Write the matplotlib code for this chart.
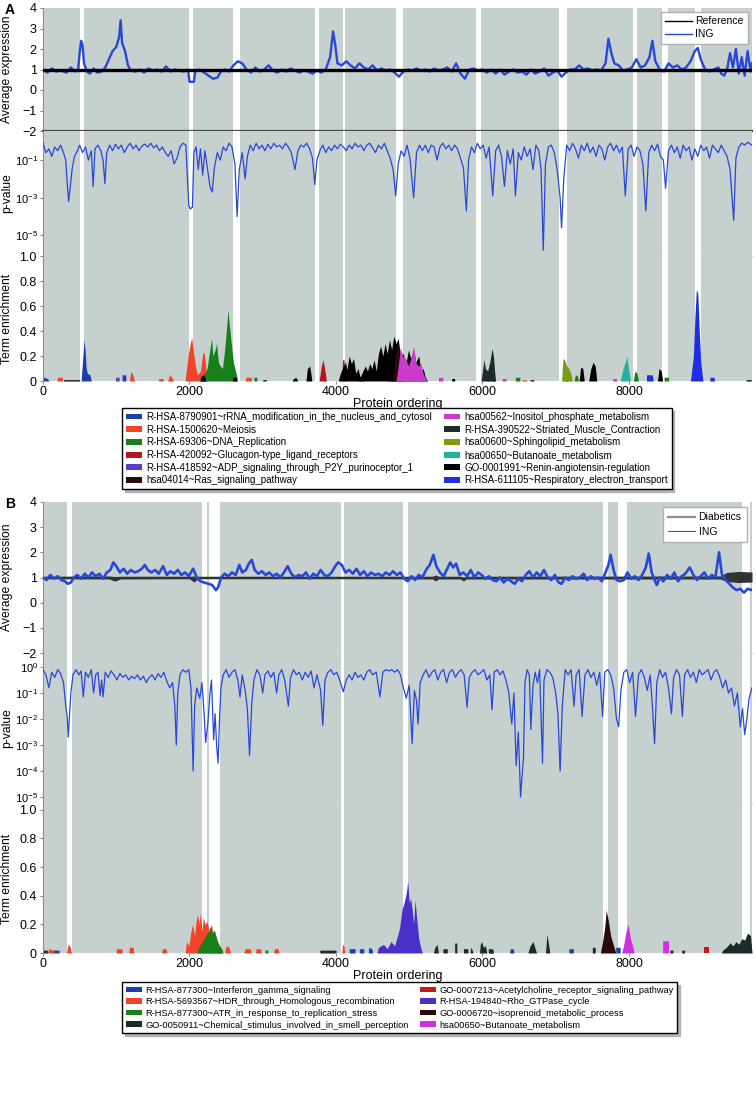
import numpy as np
import matplotlib
matplotlib.use('Agg')
import matplotlib.pyplot as plt
from matplotlib.patches import Patch
from matplotlib.lines import Line2D

plt.rcParams['font.family'] = ['Liberation Sans', 'DejaVu Sans']

# ---------------- panel A data ----------------
a_gaps = [(505, 559), (1992, 2046), (2592, 2688), (3711, 3765), (4093, 4120),
          (4816, 4911), (5907, 5975), (7040, 7149), (8049, 8104), (8458, 8527),
          (8895, 8977)]

a_ref_level = 1.0

a_ing_expr = [
    (0, 1.0), (60, 0.85), (120, 1.05), (180, 0.9), (250, 0.95), (320, 0.85), (380, 1.1),
    (440, 0.9), (480, 1.0), (500, 1.8), (520, 2.4), (540, 2.2), (560, 1.3), (600, 0.9),
    (640, 0.8), (690, 1.05), (740, 0.85), (800, 0.9), (850, 1.1), (900, 1.5), (950, 1.9),
    (1000, 2.1), (1040, 2.6), (1060, 3.4), (1080, 2.3), (1120, 1.9), (1160, 1.2),
    (1200, 0.95), (1260, 0.9), (1320, 1.0), (1380, 0.85), (1440, 1.05), (1500, 0.95),
    (1560, 1.0), (1620, 0.9), (1680, 1.15), (1740, 0.9), (1800, 1.0), (1860, 0.95),
    (1920, 0.9), (1980, 1.0), (2000, 0.4), (2060, 0.4), (2080, 0.95), (2140, 1.0),
    (2200, 0.85), (2260, 0.7), (2320, 0.55), (2380, 0.6), (2430, 0.9), (2480, 1.0),
    (2540, 0.9), (2600, 1.2), (2660, 1.4), (2720, 1.3), (2780, 1.0), (2840, 0.85),
    (2900, 1.1), (2960, 0.9), (3020, 1.0), (3080, 1.2), (3140, 0.95), (3200, 0.85),
    (3260, 1.0), (3320, 0.9), (3380, 1.05), (3440, 0.95), (3500, 0.85), (3560, 0.95),
    (3620, 0.9), (3680, 0.8), (3740, 0.95), (3800, 0.85), (3860, 1.0), (3920, 1.6),
    (3960, 2.85), (3990, 2.2), (4020, 1.3), (4080, 1.2), (4140, 1.4), (4200, 1.2),
    (4260, 1.05), (4320, 1.3), (4380, 1.1), (4440, 1.0), (4500, 1.2), (4560, 0.95),
    (4620, 1.05), (4680, 0.95), (4740, 1.0), (4800, 0.85), (4860, 0.65), (4920, 0.9),
    (4980, 1.0), (5040, 0.95), (5100, 1.05), (5160, 0.95), (5220, 1.0), (5280, 0.9),
    (5340, 1.05), (5400, 0.95), (5460, 1.0), (5520, 1.1), (5580, 0.9), (5640, 1.3),
    (5700, 0.8), (5760, 0.55), (5820, 1.0), (5880, 1.05), (5940, 0.95), (6000, 1.0),
    (6060, 0.85), (6120, 1.0), (6180, 0.8), (6240, 1.0), (6300, 0.75), (6360, 0.9),
    (6420, 1.0), (6480, 0.85), (6540, 0.9), (6600, 0.75), (6660, 1.0), (6720, 0.8),
    (6780, 0.9), (6840, 1.05), (6900, 0.7), (6960, 0.85), (7020, 0.95), (7080, 0.65),
    (7140, 0.85), (7200, 1.0), (7260, 1.0), (7320, 1.2), (7380, 1.0), (7440, 1.05),
    (7500, 0.95), (7560, 1.0), (7620, 0.95), (7680, 1.3), (7720, 2.5), (7760, 1.8),
    (7800, 1.3), (7860, 1.2), (7920, 0.95), (7980, 1.0), (8040, 1.1), (8100, 1.5),
    (8160, 1.1), (8220, 1.2), (8280, 1.6), (8320, 2.4), (8360, 1.4), (8420, 1.0),
    (8480, 0.9), (8540, 1.3), (8600, 1.1), (8660, 1.2), (8720, 1.0), (8780, 1.1),
    (8840, 1.4), (8900, 1.9), (8940, 2.05), (8980, 1.5), (9040, 1.0), (9100, 0.9),
    (9160, 1.0), (9220, 1.1), (9260, 0.8), (9300, 0.7), (9340, 1.0), (9380, 1.8),
    (9420, 1.1), (9460, 2.0), (9500, 0.8), (9540, 1.6), (9580, 0.7), (9620, 1.9),
    (9660, 0.9), (9680, 1.3)]

# log10 of the p-value
a_pval_log = [
    (0, -0.1), (40, -0.6), (80, -0.4), (120, -0.8), (160, -0.3), (200, -0.5), (240, -0.2),
    (280, -0.6), (310, -1.0), (330, -2.2), (350, -3.2), (370, -2.5), (400, -1.4),
    (430, -0.8), (470, -0.5), (500, -0.2), (540, -0.6), (580, -0.3), (620, -1.0),
    (660, -0.5), (685, -2.4), (710, -0.4), (750, -0.2), (790, -0.5), (820, -1.0),
    (845, -2.25), (870, -0.6), (910, -0.2), (950, -0.5), (990, -0.15), (1030, -0.4),
    (1070, -0.2), (1110, -0.6), (1150, -0.3), (1190, -0.1), (1230, -0.4), (1270, -0.2),
    (1310, -0.5), (1350, -0.25), (1390, -0.15), (1430, -0.3), (1470, -0.1), (1510, -0.35),
    (1550, -0.2), (1590, -0.5), (1630, -0.3), (1670, -0.6), (1710, -0.8), (1750, -0.5),
    (1790, -1.2), (1830, -0.9), (1870, -0.3), (1910, -0.1), (1950, -0.2), (1990, -3.4),
    (2010, -3.6), (2040, -3.5), (2060, -0.6), (2090, -0.3), (2120, -1.5), (2150, -0.4),
    (2180, -1.8), (2210, -0.5), (2250, -1.6), (2280, -2.4), (2310, -2.7), (2340, -1.4),
    (2380, -0.6), (2420, -1.0), (2460, -0.3), (2500, -0.5), (2540, -0.1), (2580, -0.3),
    (2620, -1.2), (2650, -4.0), (2680, -1.5), (2720, -0.6), (2760, -2.0), (2790, -0.8),
    (2830, -0.2), (2870, -0.5), (2910, -0.1), (2950, -0.4), (2990, -0.2), (3030, -0.5),
    (3070, -0.15), (3110, -0.4), (3150, -0.1), (3190, -0.3), (3230, -0.2), (3270, -0.4),
    (3310, -0.1), (3350, -0.3), (3390, -0.6), (3440, -1.5), (3480, -0.5), (3520, -0.2),
    (3560, -0.3), (3600, -0.1), (3640, -0.4), (3680, -0.9), (3710, -2.3), (3740, -1.0),
    (3780, -0.5), (3820, -0.2), (3860, -0.6), (3900, -0.3), (3940, -0.5), (3980, -0.2),
    (4020, -0.4), (4060, -0.15), (4100, -0.3), (4140, -0.5), (4180, -0.2), (4220, -0.4),
    (4260, -0.1), (4300, -0.3), (4340, -0.2), (4380, -0.5), (4420, -0.2), (4460, -0.1),
    (4500, -0.35), (4540, -0.6), (4580, -0.2), (4620, -0.4), (4660, -0.1), (4700, -0.5),
    (4740, -0.9), (4780, -1.5), (4815, -2.9), (4850, -1.2), (4890, -0.5), (4930, -0.8),
    (4970, -0.2), (5010, -0.9), (5060, -3.0), (5100, -0.6), (5140, -0.2), (5180, -0.5),
    (5220, -0.2), (5260, -0.6), (5300, -0.2), (5340, -0.3), (5380, -1.0), (5420, -0.3),
    (5460, -0.1), (5500, -0.4), (5540, -0.2), (5580, -0.5), (5620, -0.2), (5660, -0.4),
    (5700, -0.9), (5740, -1.4), (5780, -3.7), (5810, -1.0), (5850, -0.3), (5890, -0.6),
    (5930, -0.1), (5970, -0.4), (6010, -0.2), (6050, -0.9), (6090, -0.3), (6140, -2.9),
    (6180, -0.5), (6220, -0.2), (6260, -0.8), (6300, -2.4), (6340, -0.5), (6380, -1.2),
    (6420, -0.4), (6450, -2.9), (6490, -0.6), (6530, -1.0), (6570, -0.3), (6610, -0.8),
    (6650, -0.4), (6690, -1.5), (6730, -0.2), (6770, -0.5), (6800, -1.5), (6830, -5.8),
    (6860, -1.2), (6900, -0.3), (6940, -0.2), (6980, -0.6), (7020, -1.5), (7060, -3.0),
    (7080, -4.6), (7110, -2.0), (7150, -0.2), (7190, -0.5), (7230, -0.1), (7270, -0.4),
    (7310, -0.9), (7350, -0.2), (7390, -0.5), (7430, -0.1), (7470, -0.6), (7510, -0.3),
    (7550, -0.8), (7590, -0.2), (7630, -0.4), (7670, -1.0), (7710, -0.3), (7750, -0.1),
    (7790, -0.5), (7830, -0.2), (7870, -0.6), (7910, -0.3), (7950, -2.9), (7990, -0.4),
    (8030, -0.2), (8070, -0.8), (8110, -0.3), (8150, -0.5), (8190, -1.2), (8230, -3.7),
    (8270, -0.6), (8310, -0.2), (8350, -0.5), (8390, -0.15), (8430, -0.8), (8470, -1.0),
    (8500, -2.5), (8540, -0.5), (8580, -0.2), (8620, -0.6), (8660, -0.3), (8700, -0.9),
    (8740, -0.2), (8780, -0.5), (8820, -0.3), (8860, -1.0), (8900, -0.4), (8940, -0.8),
    (8980, -0.2), (9020, -0.5), (9060, -0.3), (9100, -0.9), (9140, -0.2), (9180, -0.4),
    (9220, -0.6), (9260, -0.2), (9300, -0.5), (9340, -0.8), (9380, -1.5), (9430, -4.2),
    (9460, -0.9), (9500, -0.3), (9540, -0.1), (9580, -0.2), (9620, -0.05), (9680, -0.2)]

# term enrichment profiles, panel A
a_rrna = [(0, 0), (10, 0.03), (60, 0.02), (80, 0), (520, 0), (545, 0.2), (560, 0.33),
          (575, 0.25), (590, 0.1), (605, 0.06), (640, 0.05), (660, 0),
          (1080, 0), (1080, 0.05), (1130, 0.05), (1130, 0), (6050, 0), (6050, 0.01),
          (6100, 0.01), (6100, 0)]
a_meiosis = [(190, 0), (200, 0.03), (260, 0.03), (270, 0), (1180, 0), (1200, 0.08),
             (1230, 0.04), (1250, 0), (1580, 0), (1580, 0.02), (1640, 0.02), (1640, 0),
             (1700, 0), (1730, 0.05), (1770, 0.02), (1780, 0),
             (1940, 0), (1980, 0.2), (2010, 0.3), (2030, 0.35), (2050, 0.25), (2080, 0.12),
             (2110, 0.05), (2150, 0.08), (2180, 0.22), (2200, 0.23), (2220, 0.12), (2240, 0),
             (2760, 0), (2770, 0.03), (2840, 0.03), (2850, 0), (6540, 0), (6540, 0.01),
             (6600, 0.01), (6600, 0)]
a_dna = [(2150, 0), (2200, 0.05), (2240, 0.1), (2270, 0.22), (2300, 0.34), (2320, 0.2),
         (2350, 0.25), (2370, 0.3), (2395, 0.15), (2420, 0.12), (2450, 0.1), (2480, 0.25),
         (2510, 0.45), (2525, 0.57), (2545, 0.45), (2570, 0.3), (2600, 0.15), (2640, 0.05),
         (2660, 0), (2880, 0), (2880, 0.03), (2920, 0.03), (2920, 0),
         (6450, 0), (6450, 0.03), (6510, 0.03), (6510, 0), (7250, 0), (7270, 0.05),
         (7300, 0.04), (7310, 0), (8060, 0), (8080, 0.08), (8110, 0.06), (8130, 0),
         (8480, 0), (8480, 0.03), (8540, 0.03), (8540, 0)]
a_glucagon = [(3770, 0), (3800, 0.12), (3825, 0.17), (3850, 0.08), (3870, 0),
              (4080, 0), (4090, 0.17), (4110, 0.17), (4120, 0)]
a_adp = [(990, 0), (990, 0.03), (1040, 0.03), (1040, 0), (4300, 0), (4320, 0.04),
         (4360, 0.02), (4380, 0), (4700, 0), (4720, 0.05), (4790, 0.06), (4800, 0)]
a_renin = [(280, 0), (280, 0.01), (500, 0.01), (500, 0), (2140, 0), (2160, 0.04),
           (2200, 0.05), (2220, 0), (2590, 0), (2590, 0.03), (2640, 0.03), (2640, 0),
           (3000, 0), (3000, 0.01), (3050, 0.01), (3050, 0), (3400, 0), (3420, 0.02),
           (3450, 0.03), (3480, 0), (3590, 0), (3610, 0.1), (3640, 0.12), (3660, 0.05),
           (3670, 0), (4030, 0), (4060, 0.06), (4100, 0.12), (4130, 0.15), (4150, 0.09),
           (4180, 0.2), (4210, 0.14), (4240, 0.18), (4270, 0.06), (4300, 0.1), (4330, 0.03),
           (4360, 0.07), (4400, 0.12), (4430, 0.08), (4460, 0.14), (4490, 0.1), (4520, 0.17),
           (4550, 0.08), (4580, 0.22), (4610, 0.28), (4640, 0.2), (4670, 0.3), (4700, 0.22),
           (4730, 0.33), (4760, 0.25), (4790, 0.36), (4820, 0.3), (4850, 0.34), (4880, 0.2),
           (4920, 0.22), (4950, 0.12), (4990, 0.25), (5020, 0.18), (5060, 0.25), (5090, 0.15),
           (5130, 0.2), (5160, 0.08), (5190, 0.1), (5220, 0.03), (5250, 0),
           (5580, 0), (5580, 0.02), (5620, 0.02), (5620, 0), (6130, 0), (6130, 0.03),
           (6170, 0.03), (6170, 0), (6650, 0), (6650, 0.01), (6700, 0.01), (6700, 0),
           (7320, 0), (7340, 0.11), (7370, 0.1), (7390, 0), (7450, 0), (7480, 0.1),
           (7510, 0.15), (7540, 0.12), (7560, 0), (8390, 0), (8410, 0.1), (8440, 0.08),
           (8460, 0), (9600, 0), (9600, 0.01), (9670, 0.01), (9670, 0)]
a_ras = [(4780, 0), (4810, 0.2), (4840, 0.33), (4870, 0.15), (4900, 0),
         (7130, 0), (7140, 0.1), (7160, 0.08), (7170, 0)]
a_inositol = [(4820, 0), (4850, 0.12), (4880, 0.27), (4910, 0.2), (4950, 0.18),
              (4990, 0.12), (5030, 0.2), (5060, 0.28), (5090, 0.15), (5120, 0.12),
              (5160, 0.14), (5190, 0.06), (5220, 0.02), (5250, 0),
              (5400, 0), (5400, 0.03), (5460, 0.03), (5460, 0), (6270, 0), (6270, 0.02),
              (6320, 0.02), (6320, 0), (7780, 0), (7780, 0.02), (7830, 0.02), (7830, 0)]
a_striated = [(5980, 0), (6000, 0.08), (6020, 0.17), (6040, 0.1), (6070, 0.08),
              (6100, 0.15), (6130, 0.26), (6150, 0.2), (6170, 0.05), (6180, 0)]
a_sphingo = [(7080, 0), (7100, 0.18), (7120, 0.17), (7150, 0.12), (7180, 0.1),
             (7210, 0.05), (7230, 0)]
a_butanoate = [(7880, 0), (7920, 0.1), (7950, 0.15), (7970, 0.2), (7990, 0.12), (8020, 0)]
a_resp = [(8240, 0), (8240, 0.05), (8320, 0.05), (8330, 0), (8840, 0), (8880, 0.2),
          (8900, 0.5), (8920, 0.73), (8940, 0.7), (8960, 0.4), (8980, 0.15), (9010, 0),
          (9100, 0), (9110, 0.03), (9160, 0.03), (9170, 0)]

a_terms = ['R-HSA-8790901~rRNA_modification_in_the_nucleus_and_cytosol',
           'R-HSA-1500620~Meiosis',
           'R-HSA-69306~DNA_Replication',
           'R-HSA-420092~Glucagon-type_ligand_receptors',
           'R-HSA-418592~ADP_signaling_through_P2Y_purinoceptor_1',
           'hsa04014~Ras_signaling_pathway',
           'hsa00562~Inositol_phosphate_metabolism',
           'R-HSA-390522~Striated_Muscle_Contraction',
           'hsa00600~Sphingolipid_metabolism',
           'hsa00650~Butanoate_metabolism',
           'GO-0001991~Renin-angiotensin-regulation',
           'R-HSA-611105~Respiratory_electron_transport']
a_colors = ['#1c3fb0', '#f2442a', '#17801a', '#b3151a', '#5a3cc8', '#2c0a0a',
            '#cc3acc', '#1c2c2c', '#7a9a12', '#22b0a0', '#000000', '#1a2fe6']
# same order as a_terms
a_profiles = [a_rrna, a_meiosis, a_dna, a_glucagon, a_adp, a_ras, a_inositol,
              a_striated, a_sphingo, a_butanoate, a_renin, a_resp]
a_order = [0, 1, 2, 3, 4, 10, 5, 6, 7, 8, 9, 11]

# ---------------- panel B data ----------------
b_gaps = [(327, 396), (2169, 2237), (2265, 2415), (4066, 4107), (4911, 4980),
          (7640, 7708), (7845, 7967), (9550, 9659)]

# Diabetics band: x, lower, upper
b_diab = [(0, 0.95, 1.05), (900, 0.94, 1.06), (980, 0.86, 1.04), (1060, 0.94, 1.05),
          (2000, 0.95, 1.05), (2060, 0.82, 1.06), (2120, 0.95, 1.05), (4450, 0.95, 1.05),
          (5320, 0.94, 1.05), (5360, 0.86, 1.1), (5400, 0.94, 1.05), (5700, 0.94, 1.05),
          (5740, 0.86, 1.02), (5780, 0.94, 1.05), (9250, 0.94, 1.06), (9330, 0.84, 1.2),
          (9500, 0.8, 1.24), (9680, 0.82, 1.22)]

b_ing_expr = [
    (0, 1.0), (50, 0.9), (100, 1.1), (150, 0.95), (200, 1.05), (250, 0.9), (300, 0.85),
    (340, 0.75), (380, 0.8), (420, 1.0), (470, 1.1), (520, 0.95), (570, 1.15), (620, 1.0),
    (670, 1.2), (720, 1.05), (770, 1.15), (820, 0.95), (870, 1.2), (920, 1.3), (960, 1.6),
    (1000, 1.45), (1050, 1.2), (1100, 1.35), (1150, 1.15), (1200, 1.3), (1250, 1.2),
    (1300, 1.25), (1350, 1.35), (1390, 1.5), (1430, 1.3), (1480, 1.2), (1530, 1.3),
    (1580, 1.15), (1640, 1.45), (1690, 1.1), (1740, 1.25), (1790, 1.15), (1840, 1.3),
    (1890, 1.1), (1940, 1.2), (1990, 1.05), (2050, 1.35), (2100, 1.0), (2150, 0.85),
    (2200, 0.8), (2260, 0.75), (2310, 0.7), (2360, 0.5), (2390, 0.6), (2430, 1.0),
    (2480, 1.15), (2530, 1.05), (2580, 1.2), (2630, 1.1), (2680, 1.5), (2720, 1.2),
    (2770, 1.3), (2810, 1.55), (2850, 1.7), (2890, 1.3), (2940, 1.15), (2990, 1.25),
    (3040, 1.1), (3090, 1.2), (3140, 1.05), (3190, 1.15), (3240, 1.0), (3290, 1.2),
    (3340, 1.45), (3390, 1.15), (3440, 1.0), (3490, 1.1), (3540, 1.05), (3590, 1.2),
    (3640, 0.95), (3690, 1.15), (3740, 1.05), (3790, 1.3), (3840, 1.1), (3890, 1.05),
    (3940, 1.2), (3990, 1.45), (4030, 1.6), (4080, 1.5), (4130, 1.2), (4180, 1.3),
    (4230, 1.15), (4280, 1.35), (4330, 1.1), (4380, 1.25), (4430, 1.05), (4480, 1.2),
    (4530, 1.1), (4580, 1.15), (4630, 1.05), (4680, 1.2), (4730, 1.1), (4780, 1.25),
    (4830, 1.1), (4880, 1.2), (4930, 0.95), (4980, 0.85), (5030, 1.05), (5080, 0.9),
    (5130, 1.1), (5180, 1.0), (5230, 1.3), (5280, 1.5), (5330, 1.9), (5370, 1.45),
    (5420, 1.2), (5470, 1.05), (5520, 1.35), (5560, 1.6), (5600, 1.4), (5640, 1.55),
    (5690, 1.1), (5740, 1.2), (5790, 1.05), (5840, 1.3), (5890, 1.0), (5940, 1.2),
    (5990, 1.1), (6040, 0.95), (6090, 1.05), (6140, 0.9), (6190, 0.85), (6240, 1.0),
    (6290, 0.8), (6340, 0.95), (6390, 0.85), (6440, 0.75), (6490, 0.95), (6540, 0.85),
    (6590, 1.1), (6640, 1.25), (6690, 1.0), (6740, 1.2), (6790, 1.05), (6840, 1.3),
    (6890, 1.0), (6940, 0.9), (6990, 1.1), (7040, 0.8), (7080, 0.75), (7130, 1.0),
    (7180, 0.9), (7230, 1.05), (7280, 0.95), (7330, 1.0), (7380, 1.15), (7430, 0.9),
    (7480, 1.05), (7530, 0.95), (7580, 1.0), (7630, 0.85), (7680, 1.2), (7720, 1.5),
    (7750, 1.9), (7790, 1.3), (7830, 0.9), (7880, 0.85), (7930, 0.9), (7980, 1.2),
    (8030, 0.95), (8080, 1.05), (8130, 0.9), (8180, 1.1), (8230, 1.4), (8270, 1.95),
    (8310, 1.2), (8350, 0.9), (8380, 0.7), (8420, 1.0), (8470, 0.85), (8520, 1.1),
    (8570, 0.95), (8620, 1.2), (8670, 0.85), (8720, 1.05), (8770, 1.15), (8830, 1.4),
    (8880, 1.1), (8930, 0.9), (8980, 1.05), (9030, 1.2), (9080, 0.95), (9130, 1.1),
    (9180, 1.0), (9230, 2.0), (9270, 1.1), (9320, 0.9), (9370, 0.75), (9420, 0.6),
    (9470, 0.5), (9520, 0.55), (9570, 0.4), (9620, 0.55), (9680, 0.5)]

b_pval_log = [
    (0, -0.1), (40, -0.3), (80, -0.8), (120, -0.2), (160, -0.4), (200, -0.1), (240, -0.25),
    (280, -0.6), (310, -1.5), (330, -1.9), (345, -2.7), (360, -2.0), (380, -1.0),
    (410, -0.3), (450, -0.1), (490, -0.3), (520, -0.15), (550, -1.15), (580, -0.2),
    (620, -0.4), (660, -0.1), (690, -1.0), (720, -0.3), (750, -0.2), (780, -1.1),
    (800, -0.5), (820, -1.15), (850, -0.2), (890, -0.4), (930, -0.15), (970, -0.3),
    (1010, -0.5), (1050, -0.25), (1090, -0.4), (1130, -0.3), (1170, -0.5), (1210, -0.35),
    (1250, -0.45), (1290, -0.3), (1330, -0.5), (1370, -0.35), (1410, -0.6), (1450, -0.4),
    (1490, -0.3), (1530, -0.5), (1570, -0.25), (1610, -0.4), (1650, -0.2), (1690, -0.55),
    (1730, -0.8), (1770, -0.6), (1800, -1.5), (1820, -3.0), (1840, -1.0), (1870, -0.3),
    (1910, -0.1), (1950, -0.2), (1990, -0.1), (2020, -0.8), (2050, -4.0), (2070, -1.5),
    (2100, -0.8), (2140, -1.2), (2170, -0.6), (2200, -1.8), (2220, -2.9), (2250, -2.2),
    (2280, -1.0), (2300, -0.5), (2330, -2.8), (2350, -1.8), (2370, -3.0), (2390, -3.7),
    (2410, -2.0), (2430, -0.8), (2460, -0.3), (2500, -0.1), (2540, -0.4), (2580, -0.2),
    (2620, -0.1), (2660, -0.5), (2690, -1.15), (2720, -0.3), (2760, -0.9), (2790, -1.6),
    (2820, -3.4), (2850, -1.4), (2880, -0.5), (2920, -0.1), (2960, -0.3), (3000, -1.0),
    (3030, -0.3), (3070, -0.15), (3110, -0.4), (3150, -0.2), (3190, -1.0), (3220, -0.3),
    (3260, -0.1), (3300, -0.5), (3350, -1.5), (3380, -0.4), (3420, -0.1), (3460, -0.3),
    (3500, -0.2), (3540, -0.5), (3580, -0.2), (3620, -0.4), (3660, -0.15), (3700, -0.8),
    (3740, -0.3), (3790, -0.9), (3820, -2.25), (3850, -0.5), (3890, -0.2), (3930, -0.1),
    (3970, -0.3), (4010, -0.2), (4050, -0.5), (4100, -0.95), (4140, -0.5), (4180, -0.3),
    (4220, -0.5), (4260, -0.2), (4300, -0.4), (4340, -0.3), (4380, -0.5), (4420, -0.2),
    (4460, -0.1), (4500, -0.3), (4550, -0.2), (4600, -1.15), (4640, -0.2), (4680, -0.1),
    (4720, -0.15), (4760, -0.1), (4800, -0.2), (4840, -0.1), (4880, -0.3), (4920, -0.8),
    (4960, -1.2), (5000, -0.7), (5040, -2.95), (5070, -0.9), (5100, -1.3), (5120, -2.2),
    (5150, -0.6), (5190, -0.3), (5230, -0.1), (5270, -0.4), (5310, -0.2), (5350, -0.1),
    (5390, -0.5), (5430, -0.2), (5470, -0.1), (5510, -0.6), (5550, -0.2), (5590, -0.1),
    (5630, -0.4), (5670, -0.2), (5710, -0.1), (5750, -0.3), (5790, -1.55), (5820, -0.4),
    (5860, -0.2), (5900, -0.1), (5940, -0.3), (5980, -0.2), (6020, -0.1), (6060, -0.5),
    (6100, -0.3), (6130, -1.65), (6160, -0.2), (6200, -0.1), (6240, -0.3), (6280, -0.15),
    (6320, -0.5), (6360, -1.0), (6400, -2.2), (6430, -1.0), (6460, -3.8), (6490, -2.5),
    (6520, -5.0), (6540, -4.2), (6560, -3.5), (6580, -0.6), (6610, -0.1), (6640, -0.3),
    (6660, -2.4), (6690, -0.7), (6720, -0.2), (6750, -0.6), (6780, -0.1), (6820, -3.7),
    (6840, -0.5), (6880, -0.1), (6920, -0.2), (6960, -0.4), (7000, -1.0), (7030, -1.8),
    (7060, -4.0), (7090, -1.5), (7130, -0.1), (7170, -0.3), (7210, -0.1), (7250, -1.5),
    (7280, -0.3), (7320, -0.1), (7360, -1.9), (7400, -0.3), (7440, -0.1), (7480, -0.4),
    (7520, -0.2), (7560, -0.7), (7600, -0.2), (7640, -1.9), (7670, -0.2), (7710, -0.1),
    (7750, -0.3), (7790, -0.8), (7830, -2.0), (7860, -2.3), (7890, -0.9), (7930, -0.2),
    (7970, -0.1), (8010, -0.6), (8050, -0.2), (8090, -1.9), (8130, -0.3), (8170, -0.1),
    (8210, -0.4), (8250, -0.9), (8290, -0.3), (8320, -1.5), (8350, -2.95), (8380, -0.6),
    (8420, -0.1), (8460, -0.4), (8500, -0.2), (8540, -0.8), (8580, -1.8), (8610, -0.4),
    (8650, -0.1), (8690, -0.3), (8730, -1.9), (8760, -0.3), (8800, -0.1), (8840, -0.4),
    (8880, -0.2), (8920, -0.6), (8960, -0.1), (9000, -0.3), (9040, -0.2), (9080, -0.1),
    (9120, -0.5), (9160, -0.2), (9200, -0.1), (9240, -0.4), (9280, -0.8), (9320, -0.5),
    (9360, -1.0), (9400, -0.8), (9440, -1.5), (9480, -1.0), (9520, -2.3), (9550, -1.6),
    (9580, -2.6), (9610, -2.0), (9640, -1.2), (9680, -0.8)]

b_ifn = [(130, 0), (130, 0.02), (220, 0.02), (220, 0), (2380, 0), (2380, 0.03),
         (2440, 0.03), (2440, 0), (4180, 0), (4180, 0.03), (4260, 0.03), (4260, 0),
         (4320, 0), (4320, 0.03), (4380, 0.03), (4380, 0), (4440, 0), (4450, 0.04),
         (4490, 0.03), (4500, 0), (6100, 0), (6100, 0.02), (6150, 0.02), (6150, 0),
         (6370, 0), (6380, 0.03), (6420, 0.03), (6430, 0), (7180, 0), (7180, 0.03),
         (7240, 0.03), (7240, 0), (7820, 0), (7820, 0.04), (7880, 0.04), (7880, 0)]
b_hdr = [(60, 0), (80, 0.03), (140, 0.02), (160, 0), (320, 0), (345, 0.066), (370, 0.04),
         (390, 0), (1000, 0), (1000, 0.03), (1080, 0.03), (1080, 0), (1170, 0),
         (1180, 0.04), (1230, 0.04), (1240, 0), (1620, 0), (1630, 0.03), (1680, 0.03),
         (1690, 0), (1940, 0), (1960, 0.08), (1990, 0.05), (2020, 0.15), (2040, 0.2),
         (2070, 0.12), (2090, 0.22), (2110, 0.27), (2130, 0.2), (2150, 0.28), (2170, 0.15),
         (2190, 0.25), (2210, 0.2), (2240, 0.22), (2270, 0.15), (2300, 0.2), (2330, 0.1),
         (2360, 0.12), (2400, 0.05), (2420, 0), (2480, 0), (2500, 0.05), (2540, 0.04),
         (2560, 0), (2740, 0), (2760, 0.03), (2830, 0.03), (2840, 0), (2900, 0),
         (2910, 0.03), (2970, 0.03), (2980, 0), (3150, 0), (3160, 0.03), (3210, 0.03),
         (3220, 0), (4080, 0), (4090, 0.06), (4110, 0.05), (4120, 0)]
b_atr = [(2100, 0), (2140, 0.05), (2180, 0.08), (2220, 0.12), (2260, 0.15), (2290, 0.19),
         (2310, 0.14), (2340, 0.16), (2370, 0.1), (2400, 0.06), (2440, 0.03), (2460, 0),
         (3030, 0), (3030, 0.02), (3070, 0.02), (3070, 0)]
b_smell = [(0, 0), (0, 0.02), (60, 0.02), (60, 0), (3780, 0), (3780, 0.02), (4000, 0.02),
           (4000, 0), (5330, 0), (5350, 0.04), (5380, 0.06), (5400, 0), (5460, 0),
           (5460, 0.03), (5520, 0.03), (5520, 0), (5620, 0), (5620, 0.07), (5650, 0.07),
           (5650, 0), (5740, 0), (5740, 0.03), (5800, 0.03), (5800, 0), (5830, 0),
           (5840, 0.04), (5860, 0.02), (5870, 0), (5960, 0), (5970, 0.06), (5990, 0.08),
           (6010, 0.04), (6040, 0.05), (6060, 0), (6080, 0), (6080, 0.03), (6140, 0.03),
           (6140, 0), (6620, 0), (6650, 0.05), (6690, 0.08), (6720, 0.03), (6740, 0),
           (6860, 0), (6880, 0.13), (6900, 0.07), (6920, 0), (7500, 0), (7500, 0.04),
           (7540, 0.04), (7540, 0), (8560, 0), (8560, 0.02), (8600, 0.02), (8600, 0),
           (8720, 0), (8720, 0.02), (8760, 0.02), (8760, 0), (9260, 0), (9280, 0.02),
           (9330, 0.04), (9380, 0.07), (9420, 0.05), (9460, 0.08), (9500, 0.06),
           (9540, 0.1), (9580, 0.09), (9620, 0.14), (9660, 0.12), (9680, 0)]
b_ach = [(9020, 0), (9020, 0.04), (9090, 0.04), (9090, 0)]
b_rho = [(4560, 0), (4580, 0.04), (4650, 0.06), (4700, 0.03), (4750, 0.08), (4800, 0.05),
         (4840, 0.12), (4870, 0.18), (4900, 0.3), (4930, 0.35), (4960, 0.42), (4980, 0.5),
         (5000, 0.35), (5020, 0.38), (5040, 0.3), (5060, 0.2), (5080, 0.37), (5100, 0.25),
         (5130, 0.1), (5160, 0.03), (5180, 0)]
b_isop = [(7610, 0), (7640, 0.08), (7670, 0.18), (7690, 0.3), (7720, 0.22), (7750, 0.12),
          (7790, 0.05), (7820, 0)]
b_but = [(7900, 0), (7930, 0.06), (7960, 0.15), (7990, 0.2), (8020, 0.1), (8050, 0.05),
         (8070, 0), (8460, 0), (8460, 0.085), (8540, 0.085), (8540, 0)]

b_terms = ['R-HSA-877300~Interferon_gamma_signaling',
           'R-HSA-5693567~HDR_through_Homologous_recombination',
           'R-HSA-877300~ATR_in_response_to_replication_stress',
           'GO-0050911~Chemical_stimulus_involved_in_smell_perception',
           'GO-0007213~Acetylcholine_receptor_signaling_pathway',
           'R-HSA-194840~Rho_GTPase_cycle',
           'GO-0006720~isoprenoid_metabolic_process',
           'hsa00650~Butanoate_metabolism']
b_colors = ['#1c3fb0', '#f2442a', '#17801a', '#1c2a2a', '#c81818', '#4a30c8',
            '#2c0808', '#d030e0']
b_profiles = [b_ifn, b_hdr, b_atr, b_smell, b_ach, b_rho, b_isop, b_but]
b_order = [0, 1, 2, 3, 4, 5, 6, 7]

xticks = [0, 2000, 4000, 6000, 8000]
XMAX = 9680

BG = '#c6d0ce'
BLUE = '#2848d8'
W, H = 756.0, 1100.0


def rect(top, bottom):
    return [43 / W, 1 - bottom / H, 709 / W, (bottom - top) / H]


def base(ax, gaps):
    ax.set_facecolor(BG)
    for a, b in gaps:
        ax.axvspan(a, b, color='white', lw=0, zorder=0.5)
    ax.set_xlim(0, XMAX)
    for s in ['top', 'right', 'bottom']:
        ax.spines[s].set_visible(False)
    ax.spines['left'].set_color('#909090')
    ax.tick_params(axis='y', length=2.5, width=0.6, color='#707070', labelsize=9, pad=2)
    ax.tick_params(axis='x', length=2.5, width=0.6, color='#707070', labelsize=9, pad=1)


def draw_panel(fig, tops, gaps, ing_expr, pval_log, profiles, colors, order,
               terms, legend_top, legend_left, legend_size, p_ticks, p_lim,
               term_top, letter, expr_lw):
    t0, t1, t2, t3 = tops
    ax1 = fig.add_axes(rect(t0, t1))
    ax2 = fig.add_axes(rect(t1, t2))
    ax3 = fig.add_axes(rect(t2, t3))
    for ax in (ax1, ax2, ax3):
        base(ax, gaps)

    x, y = zip(*ing_expr)
    ax1.plot(x, y, color=BLUE, lw=expr_lw, zorder=3)
    ax1.set_ylim(-2, 4)
    ax1.set_yticks([-2, -1, 0, 1, 2, 3, 4])
    ax1.set_xticks([])
    ax1.set_ylabel('Average expression', fontsize=8.7)
    ax1.yaxis.set_label_coords(-30 / 709, 0.5)

    x, e = zip(*pval_log)
    ax2.plot(x, 10.0 ** np.array(e), color=BLUE, lw=0.9, zorder=3)
    ax2.set_yscale('log')
    ax2.set_ylim(*p_lim)
    ax2.set_yticks(p_ticks)
    ax2.yaxis.set_minor_locator(matplotlib.ticker.NullLocator())
    ax2.tick_params(axis='y', labelsize=8, pad=1)
    ax2.set_xticks([])
    ax2.set_ylabel('p-value', fontsize=8.7)
    ax2.yaxis.set_label_coords(-30 / 709, 0.5)

    for i in order:
        px, py = zip(*profiles[i])
        ax3.fill_between(px, 0, py, color=colors[i], lw=0, zorder=2)
    ax3.set_ylim(0, term_top)
    ax3.set_yticks([0, 0.2, 0.4, 0.6, 0.8, 1.0])
    ax3.set_yticklabels(['0', '0.2', '0.4', '0.6', '0.8', '1.0'])
    ax3.set_xticks(xticks)
    ax3.set_xticklabels([str(v) for v in xticks])
    ax3.set_xlabel('Protein ordering', fontsize=9, labelpad=0)
    ax3.set_ylabel('Term enrichment', fontsize=8.7)
    ax3.yaxis.set_label_coords(-30 / 709, 0.5)

    handles = [Patch(facecolor=colors[i], edgecolor='none') for i in range(len(terms))]
    fig.legend(handles, terms, ncol=2, loc='upper left',
               bbox_to_anchor=(legend_left / W, 1 - legend_top / H),
               fontsize=legend_size, frameon=True, fancybox=False, edgecolor='black',
               handlelength=1.7, handleheight=0.55, labelspacing=0.28,
               columnspacing=1.2, borderpad=0.4, handletextpad=0.4, borderaxespad=0,
               shadow={'facecolor': '0.7', 'edgecolor': '0.7', 'alpha': 1})
    fig.text(5 / W, 1 - (t0 + 2) / H, letter, fontsize=10, fontweight='bold',
             va='center', ha='left')
    return ax1, ax2, ax3


fig = plt.figure(figsize=(W / 100, H / 100), dpi=100)

# panel A
a1, a2, a3 = draw_panel(fig, (8, 131, 256, 381), a_gaps, a_ing_expr, a_pval_log,
                        a_profiles, a_colors, a_order, a_terms, 408, 122, 7.0,
                        [1e-1, 1e-3, 1e-5], (10 ** -6.1, 10 ** 0.55), 1.0, 'A', 1.7)
a1.axhline(a_ref_level, color='black', lw=2.4, zorder=4)
a1.spines['bottom'].set_visible(True)
a1.spines['bottom'].set_color('#4a4a4a')
a1.spines['bottom'].set_linewidth(1.6)
a1.legend([Line2D([], [], color='black', lw=1), Line2D([], [], color=BLUE, lw=1)],
          ['Reference', 'ING'], loc='upper right', fontsize=7.5, frameon=True,
          fancybox=False, edgecolor='#b0b0b0', framealpha=1, handlelength=2.6,
          handletextpad=0.3, labelspacing=0.3, borderpad=0.4, borderaxespad=0.4)

# panel B
b1, b2, b3 = draw_panel(fig, (502, 653, 804, 953), b_gaps, b_ing_expr, b_pval_log,
                        b_profiles, b_colors, b_order, b_terms, 982, 122, 6.7,
                        [1e0, 1e-1, 1e-2, 1e-3, 1e-4, 1e-5],
                        (10 ** -5.27, 10 ** 0.54), 1.04, 'B', 1.9)
dx, dlo, dhi = zip(*b_diab)
b1.fill_between(dx, dlo, dhi, color='#2e3533', lw=0, zorder=2)
b1.lines[0].set_zorder(3)
b1.legend([Line2D([], [], color='#8c8c8c', lw=1.6), Line2D([], [], color='#3a55b0', lw=0.8)],
          ['Diabetics', 'ING'], loc='upper right', fontsize=7.5, frameon=True,
          fancybox=False, edgecolor='#b0b0b0', framealpha=1, handlelength=2.6,
          handletextpad=0.3, labelspacing=0.4, borderpad=0.5, borderaxespad=0.5)
for ax in (b1, b2):
    ax.spines['bottom'].set_visible(True)
    ax.spines['bottom'].set_color('#d8dedd')
    ax.spines['bottom'].set_linewidth(0.8)
a2.spines['bottom'].set_visible(True)
a2.spines['bottom'].set_color('#d8dedd')

fig.savefig('out.png', dpi=100)
